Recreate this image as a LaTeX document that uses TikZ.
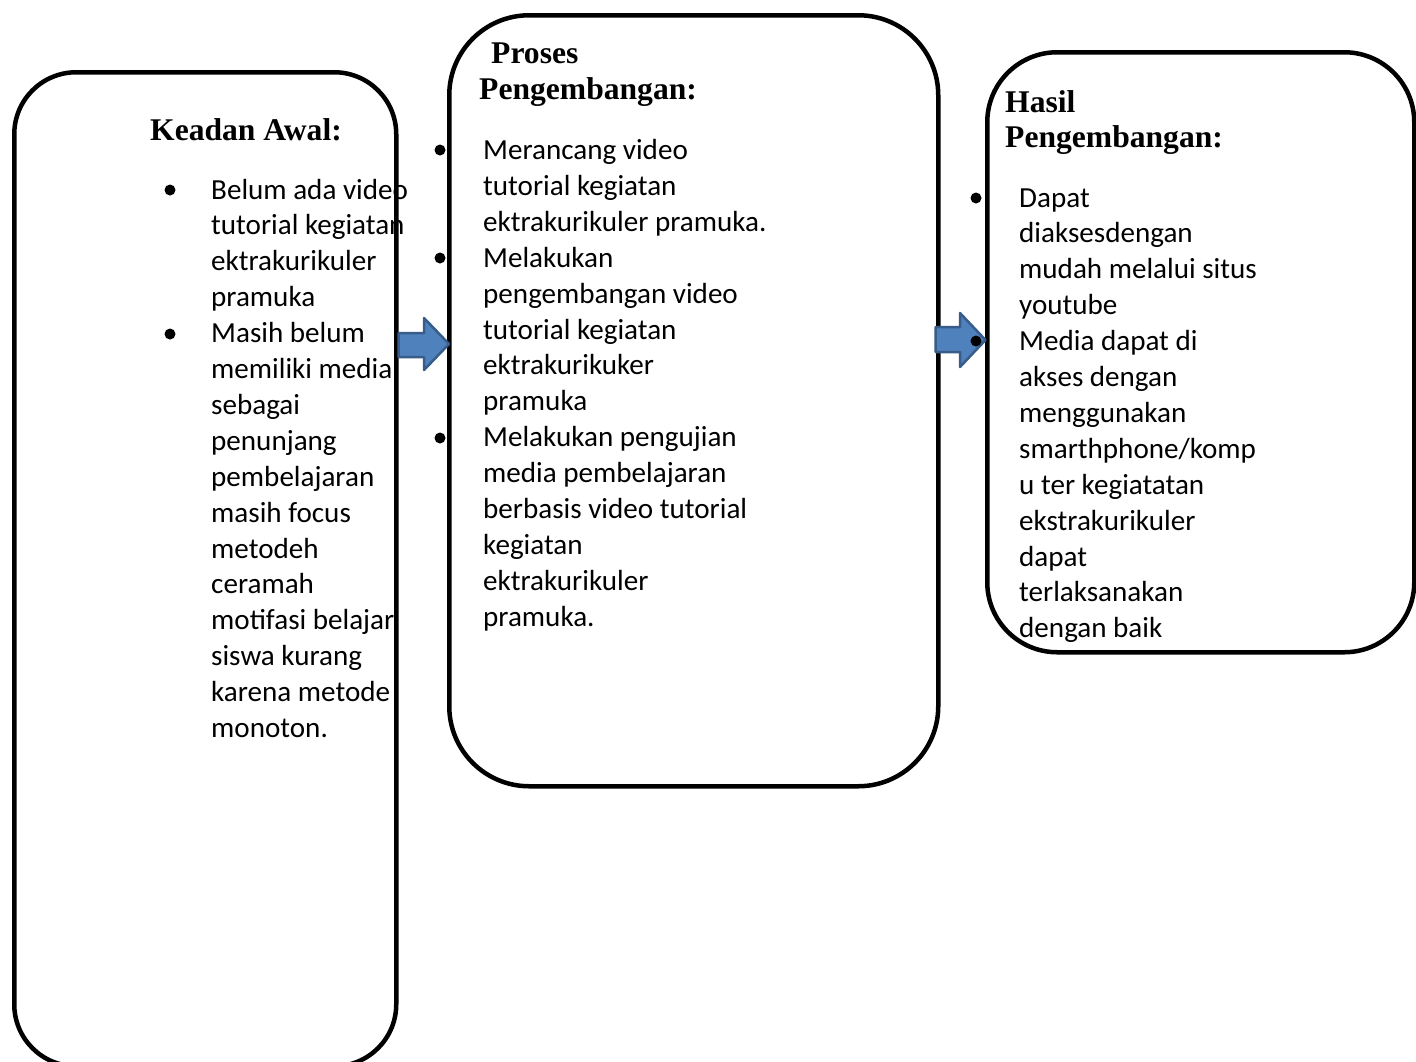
\documentclass[tikz,border=0pt]{standalone}
\usepackage{fontspec}
\setmainfont{Liberation Serif}
\newfontfamily\bodyfont{Carlito}
\definecolor{arrowfill}{HTML}{4F81BD}
\definecolor{arrowedge}{HTML}{385D8A}
\newcommand\lns[1]{\begin{tabular}[t]{@{}l@{}}#1\end{tabular}}
\tikzset{
  box/.style={draw=black, line width=4.5pt, inner sep=0pt, anchor=north west},
  blockarrow/.style={draw=arrowedge, fill=arrowfill, line width=2.5pt, line join=round},
  title/.style={anchor=base west, inner sep=0pt, font=\fontsize{31.6}{36}\selectfont\bfseries},
  body/.style={anchor=base west, inner sep=0pt, font=\bodyfont\fontsize{29.1}{35.9}\selectfont},
  bul/.style={circle, fill=black, inner sep=0pt, minimum size=11pt},
}
\begin{document}
\begin{tikzpicture}[x=1pt,y=-1pt]
\clip (0,0) rectangle (1416,1061);
\fill[white] (0,0) rectangle (1416,1061);
% boxes
\node[box, rounded corners=62pt, minimum width=382pt, minimum height=994pt] (awal) at (12,70) {};
\node[box, rounded corners=80pt, minimum width=489pt, minimum height=771pt] (proses) at (447,13) {};
\node[box, rounded corners=70pt, minimum width=427pt, minimum height=600pt] (hasil) at (985,50) {};
% block arrows
\draw[blockarrow] (398.5,333) -- (424,333) -- (424,318) -- (449,344) -- (424,370) -- (424,357) -- (398.5,357) -- cycle;
\draw[blockarrow] (935.5,327) -- (960,327) -- (960,313) -- (985.5,340) -- (960,367) -- (960,352) -- (935.5,352) -- cycle;
% left box
\node[title] (t1) at (150,140) {Keadan Awal:};
\node[bul] (b11) at (170,190) {};
\node[bul] (b12) at (170,334) {};
\node[body] (x1) at (211,199) {\lns{Belum ada video\\ tutorial kegiatan\\ ektrakurikuler\\ pramuka\\ Masih belum\\ memiliki media\\ sebagai\\ penunjang\\ pembelajaran\\ masih focus\\ metodeh\\ ceramah\\ motifasi belajar\\ siswa kurang\\ karena metode\\ monoton.}};
% middle box
\node[title] (t2a) at (491,63) {Proses};
\node[title] (t2b) at (479,99) {Pengembangan:};
\node[bul] (b21) at (440,150) {};
\node[bul] (b22) at (440,258) {};
\node[bul] (b23) at (440,438) {};
\node[body] (x2) at (483,159.5) {\lns{Merancang video\\ tutorial kegiatan\\ ektrakurikuler pramuka.\\ Melakukan\\ pengembangan video\\ tutorial kegiatan\\ ektrakurikuker\\ pramuka\\ Melakukan pengujian\\ media pembelajaran\\ berbasis video tutorial\\ kegiatan\\ ektrakurikuler\\ pramuka.}};
% right box
\node[title] (t3a) at (1005,112) {Hasil};
\node[title] (t3b) at (1005,147) {Pengembangan:};
\node[bul] (b31) at (976,198) {};
\node[bul] (b32) at (976,341) {};
\node[body] (x3) at (1019,207) {\lns{Dapat\\ diaksesdengan\\ mudah melalui situs\\ youtube\\ Media dapat di\\ akses dengan\\ menggunakan\\ smarthphone/komp\\ u ter kegiatatan\\ ekstrakurikuler\\ dapat\\ terlaksanakan\\ dengan baik}};
\end{tikzpicture}
\end{document}
